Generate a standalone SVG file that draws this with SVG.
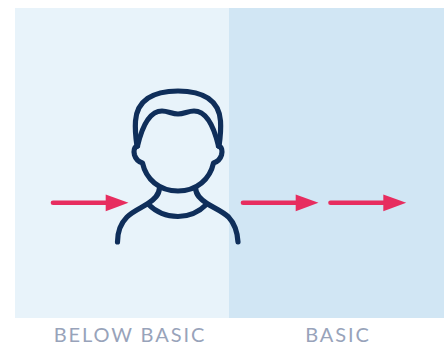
<svg xmlns="http://www.w3.org/2000/svg" width="445" height="345" viewBox="0 0 445 345">
<style>
.p{fill:none;stroke:#0f2e5a;stroke-width:5.200;stroke-linecap:round;stroke-linejoin:round}
.a{fill:none;stroke:#e72d5f;stroke-width:4.600;stroke-linecap:round}
.h{fill:#e72d5f}
.t{font-family:"Lato","Liberation Sans",sans-serif;font-size:20px;letter-spacing:1.9px;fill:#98a3ba;text-anchor:middle}
</style>
<rect width="445" height="345" fill="#fff"/>
<g id="panel-below-basic"><rect x="15" y="8" width="214" height="310" fill="#e8f3fa"/></g>
<g id="panel-basic"><rect x="229" y="8" width="215" height="310" fill="#d1e6f4"/></g>
<g id="person">
<path class="p" d="M137 146C135.500 136 135 128 135.500 121C137 101 152 91 178 91C204 91 219 101 220.500 121C221 128 220.500 136 219 146"/>
<path class="p" d="M137.500 146C142 127 149 111 162 111C168 111 172 114 178 114C184 114 188 111 194 111C207 111 214 127 218.500 146"/>
<path class="p" d="M137.500 146C134 147 133.500 151 134.500 155C136 160 139 162 142.500 163C146 179 159 191 178 191C197 191 210 179 213.500 163C217 162 220 160 221.500 155C222.500 151 222 147 218.500 146"/>
<path class="p" d="M159.500 188C159 195 155 199 148 203.500C141 208 133 211 127 217C120 224 117.500 233 117.500 242"/>
<path class="p" d="M195.500 188C196 195 200 199 207 203.500C214 208 222 211 228.500 217C235 224 237.500 233 238 242"/>
<path class="p" d="M148 204C156 212 166 216.500 178 216.500C190 216.500 199 212 207 204"/>
</g>
<g id="connectors">
<path class="a" d="M53 202.800H107"/><polygon class="h" points="105.700,194.400 128.500,202.800 105.700,211.200"/>
<path class="a" d="M243 202.800H297"/><polygon class="h" points="295.700,194.400 318.500,202.800 295.700,211.200"/>
<path class="a" d="M330.500 202.800H385"/><polygon class="h" points="383.300,194.400 406.200,202.800 383.300,211.200"/>
</g>
<g id="labels">
<text class="t" x="130" y="342">BELOW BASIC</text>
<text class="t" x="338" y="342">BASIC</text>
</g>
</svg>
